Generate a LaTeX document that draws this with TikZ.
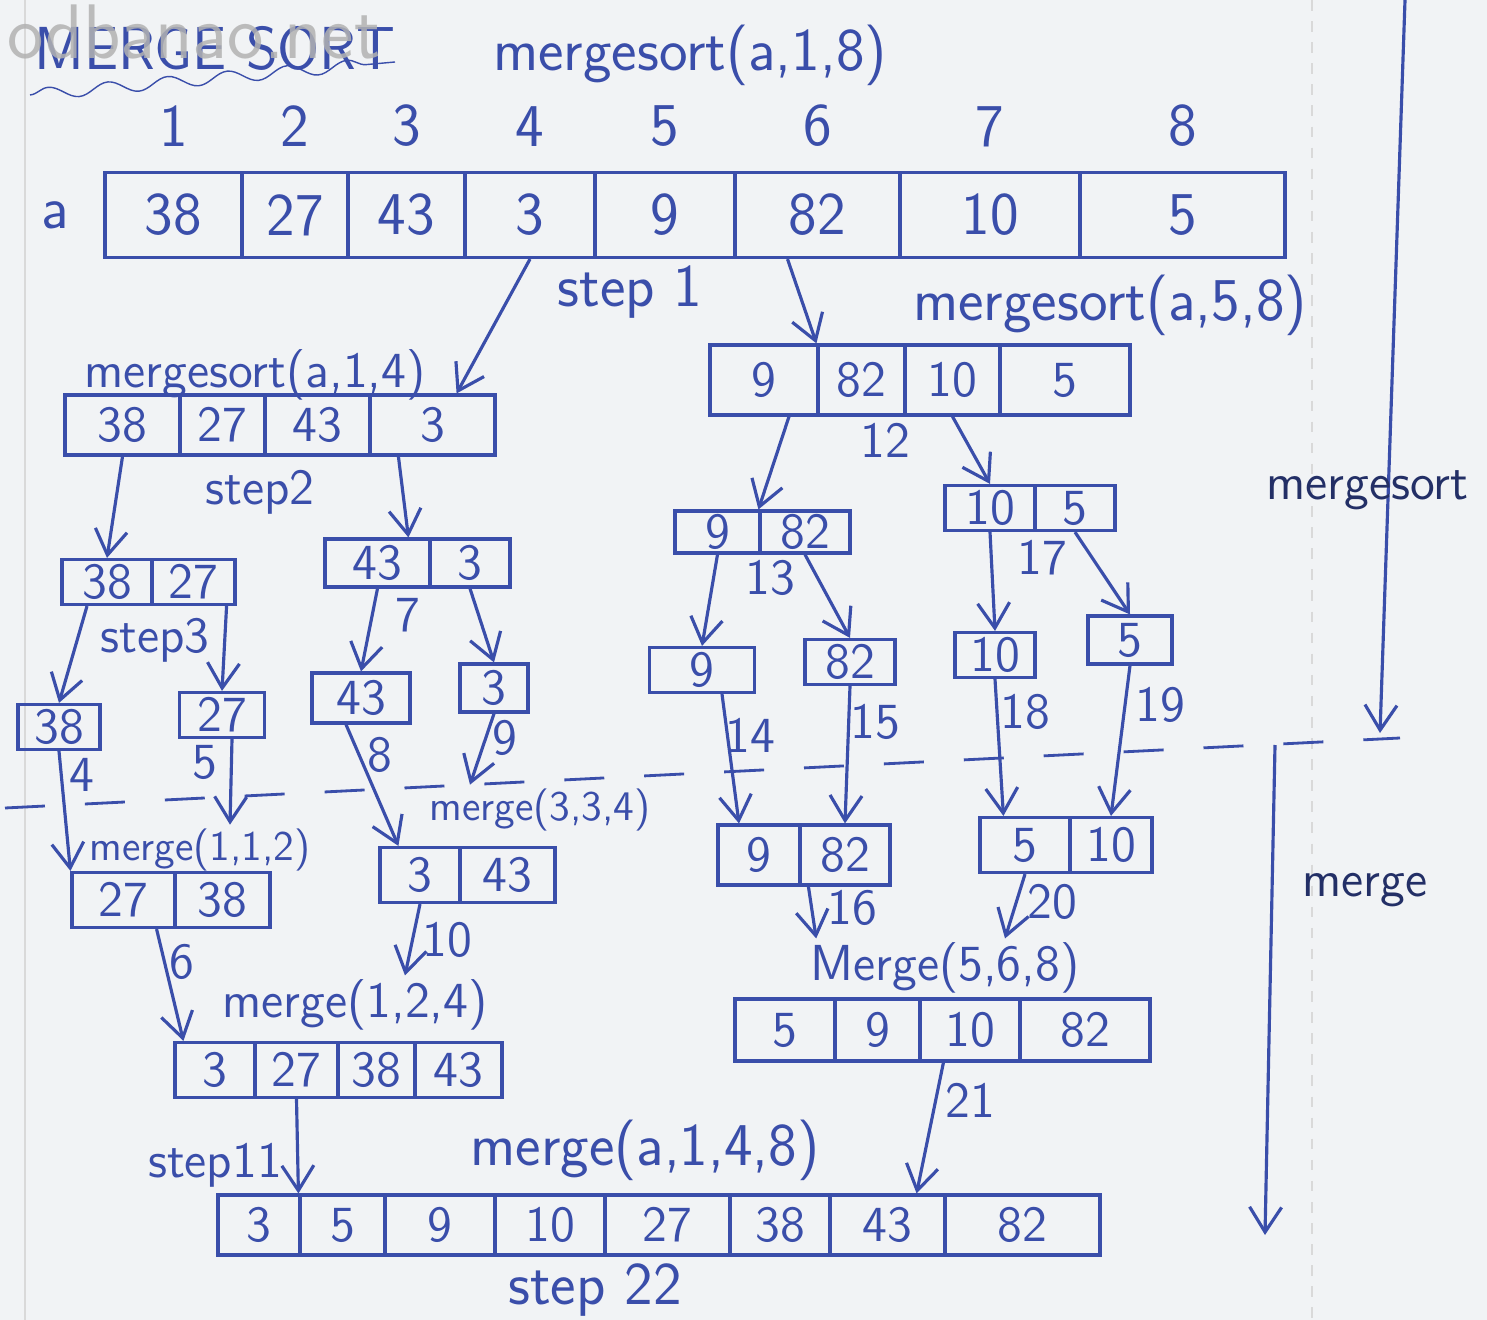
\documentclass[tikz,border=0pt]{standalone}
\usepackage{tikz}
\usetikzlibrary{positioning,arrows.meta,decorations.pathmorphing}

\definecolor{ink}{RGB}{58,78,170}
\definecolor{paper}{RGB}{241,243,245}

\tikzset{
	cell/.style = {draw=ink, rectangle, inner sep=0pt, text=ink, line width=0.9pt, font=\sffamily\Large},
	txt/.style = {text=ink, font=\sffamily\Large, inner sep=1pt},
	bigtxt/.style = {text=ink, font=\sffamily\LARGE, inner sep=1pt},
	arr/.style = {draw=ink, line width=0.9pt, -{Straight Barb[length=2.5mm,width=3.2mm]}},
}

\begin{document}
\begin{tikzpicture}[yscale=-1]
\useasboundingbox (0,0) rectangle (14.87,13.2);
\fill[paper] (0,0) rectangle (14.87,13.2);
\draw[gray!30, line width=0.8pt] (0.25,0) -- (0.25,13.2);
\draw[gray!30, dashed] (13.12,0) -- (13.12,13.2);

% title
\node[bigtxt, anchor=west] (title) at (0.3,0.48) {MERGE SORT};
\draw[ink, decorate, decoration={snake, amplitude=0.6mm, segment length=6mm}] (0.3,0.95) -- (3.95,0.62);
\node[anchor=west, text=gray!60, opacity=0.85, font=\sffamily\fontsize{22}{24}\selectfont] (mark) at (-0.05,0.32) {odbanao.net};

% the whole array
\node[bigtxt] (call18) at (6.9,0.55) {mergesort(a,1,8)};
\foreach \l/\r/\v [count=\i] in {1.05/2.42/38, 2.42/3.48/27, 3.48/4.65/43, 4.65/5.95/3, 5.95/7.35/9, 7.35/9.00/82, 9.00/10.80/10, 10.80/12.85/5}
	\node[cell, font=\sffamily\LARGE, minimum height=0.85cm, minimum width={(\r-\l)*1cm}] (top\i) at ({(\l+\r)/2}, 2.15) {\v};
\foreach \i in {1, ..., 8}
	\node[bigtxt, above=2mm of top\i] (ix\i) {\i};
\node[bigtxt, left=3mm of top1] (aname) {a};
\node[bigtxt] (st1) at (6.3,2.92) {step 1};

% mergesort(a,1,4)
\node[txt] (call14) at (2.55,3.75) {mergesort(a,1,4)};
\foreach \l/\r/\v [count=\i] in {0.65/1.80/38, 1.80/2.65/27, 2.65/3.70/43, 3.70/4.95/3}
	\node[cell, minimum height=0.6cm, minimum width={(\r-\l)*1cm}] (lft\i) at ({(\l+\r)/2}, 4.25) {\v};

% mergesort(a,5,8)
\node[bigtxt] (call58) at (11.1,3.05) {mergesort(a,5,8)};
\foreach \l/\r/\v [count=\i] in {7.10/8.18/9, 8.18/9.05/82, 9.05/10.00/10, 10.00/11.30/5}
	\node[cell, minimum height=0.7cm, minimum width={(\r-\l)*1cm}] (rgt\i) at ({(\l+\r)/2}, 3.8) {\v};

\draw[arr] (top4.south) -- ([xshift=-4mm]lft4.north east);
\draw[arr] ([xshift=-3mm]top6.south) -- (rgt2.north west);

% halves of the halves
\foreach \l/\r/\v [count=\i] in {0.62/1.52/38, 1.52/2.35/27}
	\node[cell, minimum height=0.45cm, minimum width={(\r-\l)*1cm}] (lla\i) at ({(\l+\r)/2}, 5.82) {\v};
\foreach \l/\r/\v [count=\i] in {3.25/4.30/43, 4.30/5.10/3}
	\node[cell, minimum height=0.48cm, minimum width={(\r-\l)*1cm}] (llb\i) at ({(\l+\r)/2}, 5.63) {\v};
\foreach \l/\r/\v [count=\i] in {6.75/7.60/9, 7.60/8.50/82}
	\node[cell, minimum height=0.42cm, minimum width={(\r-\l)*1cm}] (rra\i) at ({(\l+\r)/2}, 5.32) {\v};
\foreach \l/\r/\v [count=\i] in {9.45/10.35/10, 10.35/11.15/5}
	\node[cell, minimum height=0.45cm, minimum width={(\r-\l)*1cm}] (rrb\i) at ({(\l+\r)/2}, 5.08) {\v};

\draw[arr] (lft1.south) -- (lla1.north);
\draw[arr] ([xshift=3mm]lft4.south west) -- ([xshift=-2mm]llb2.north west);
\draw[arr] ([xshift=2.5mm]rgt1.south) -- (rra2.north west);
\draw[arr] (rgt3.south) -- (rrb1.north);

\node[txt] (st2) at (2.6,4.92) {step2};
\node[txt] (n12) at (8.85,4.40) {12};

% single elements
\node[cell, minimum height=0.45cm, minimum width=0.82cm] (one38) at (0.59,7.27) {38};
\node[cell, minimum height=0.45cm, minimum width=0.85cm] (one27) at (2.22,7.15) {27};
\node[cell, minimum height=0.5cm, minimum width=0.98cm] (one43) at (3.61,6.98) {43};
\node[cell, minimum height=0.48cm, minimum width=0.68cm] (one3) at (4.94,6.88) {3};
\node[cell, minimum height=0.45cm, minimum width=1.05cm] (one9) at (7.02,6.70) {9};
\node[cell, minimum height=0.45cm, minimum width=0.9cm] (one82) at (8.5,6.62) {82};
\node[cell, minimum height=0.45cm, minimum width=0.8cm] (one10) at (9.95,6.55) {10};
\node[cell, minimum height=0.48cm, minimum width=0.84cm] (one5) at (11.3,6.40) {5};

\draw[arr] ([xshift=-2mm]lla1.south) -- (one38.north);
\draw[arr] ([xshift=-1mm]lla2.south east) -- (one27.north);
\draw[arr] (llb1.south) -- (one43.north);
\draw[arr] (llb2.south) -- (one3.north);
\draw[arr] (rra1.south) -- (one9.north);
\draw[arr] (rra2.south) -- (one82.north);
\draw[arr] (rrb1.south) -- (one10.north);
\draw[arr] (rrb2.south) -- (one5.north);

\node[txt] (st3) at (1.55,6.40) {step3};
\node[txt] (n7) at (4.08,6.15) {7};
\node[txt] (n13) at (7.70,5.78) {13};
\node[txt] (n17) at (10.42,5.58) {17};

% mergesort above, merge below
\draw[ink, line width=0.8pt, dash pattern=on 4mm off 4mm] (0.05,8.08) -- (14.0,7.38);
\coordinate (msA) at (14.05,0);
\coordinate (msB) at (13.80,7.33);
\draw[arr] (msA) -- (msB);
\node[txt, text=ink!60!black, anchor=west] (msname) at (12.62,4.90) {mergesort};
\coordinate (mgA) at (12.75,7.45);
\coordinate (mgB) at (12.65,12.35);
\draw[arr] (mgA) -- (mgB);
\node[txt, text=ink!60!black] (mgname) at (13.65,8.90) {merge};

\node[txt] (n4) at (0.82,7.75) {4};
\node[txt] (n5) at (2.05,7.62) {5};
\node[txt] (n8) at (3.80,7.55) {8};
\node[txt] (n9) at (5.05,7.38) {9};
\node[txt] (n14) at (7.50,7.35) {14};
\node[txt] (n15) at (8.75,7.22) {15};
\node[txt] (n18) at (10.25,7.12) {18};
\node[txt] (n19) at (11.6,7.05) {19};

% merged pairs
\node[txt, font=\sffamily\large] (call112) at (2.0,8.50) {merge(1,1,2)};
\foreach \l/\r/\v [count=\i] in {0.72/1.75/27, 1.75/2.70/38}
	\node[cell, minimum height=0.55cm, minimum width={(\r-\l)*1cm}] (mA\i) at ({(\l+\r)/2}, 9.0) {\v};
\node[txt, font=\sffamily\large] (call334) at (5.40,8.10) {merge(3,3,4)};
\foreach \l/\r/\v [count=\i] in {3.80/4.60/3, 4.60/5.55/43}
	\node[cell, minimum height=0.55cm, minimum width={(\r-\l)*1cm}] (mB\i) at ({(\l+\r)/2}, 8.75) {\v};
\foreach \l/\r/\v [count=\i] in {7.18/8.00/9, 8.00/8.90/82}
	\node[cell, minimum height=0.6cm, minimum width={(\r-\l)*1cm}] (mD\i) at ({(\l+\r)/2}, 8.55) {\v};
\foreach \l/\r/\v [count=\i] in {9.80/10.70/5, 10.70/11.52/10}
	\node[cell, minimum height=0.55cm, minimum width={(\r-\l)*1cm}] (mE\i) at ({(\l+\r)/2}, 8.45) {\v};

\draw[arr] (one38.south) -- (mA1.north west);
\draw[arr] ([xshift=1mm]one27.south) -- ([xshift=3mm]call112.north);
\draw[arr] ([xshift=-1.5mm]one43.south) -- ([xshift=2mm]mB1.north west);
\draw[arr] (one3.south) -- ([xshift=-7mm]call334.north);
\draw[arr] ([xshift=2mm]one9.south) -- ([xshift=-2mm]mD1.north);
\draw[arr] (one82.south) -- (mD2.north);
\draw[arr] (one10.south) -- ([xshift=2.5mm]mE1.north west);
\draw[arr] (one5.south) -- (mE2.north);

% merged fours
\node[txt] (call124) at (3.55,10.05) {merge(1,2,4)};
\foreach \l/\r/\v [count=\i] in {1.75/2.55/3, 2.55/3.38/27, 3.38/4.15/38, 4.15/5.02/43}
	\node[cell, minimum height=0.55cm, minimum width={(\r-\l)*1cm}] (mC\i) at ({(\l+\r)/2}, 10.70) {\v};
\node[txt] (call568) at (9.45,9.68) {Merge(5,6,8)};
\foreach \l/\r/\v [count=\i] in {7.35/8.35/5, 8.35/9.20/9, 9.20/10.20/10, 10.20/11.50/82}
	\node[cell, minimum height=0.62cm, minimum width={(\r-\l)*1cm}] (mF\i) at ({(\l+\r)/2}, 10.30) {\v};

\draw[arr] ([xshift=1mm]mD2.south west) -- ([xshift=1mm]call568.north west);
\draw[arr] (mE1.south) -- ([xshift=6mm]call568.north);

\draw[arr] ([xshift=-2mm]mA1.south east) -- ([xshift=1mm]mC1.north west);
\draw[arr] (mB1.south) -- ([xshift=5mm]call124.north);

\node[txt] (n6) at (1.82,9.62) {6};
\node[txt] (n10) at (4.47,9.40) {10};
\node[txt] (n16) at (8.52,9.08) {16};
\node[txt] (n20) at (10.52,9.02) {20};

% the sorted array
\node[bigtxt] (call18m) at (6.45,11.50) {merge(a,1,4,8)};
\foreach \l/\r/\v [count=\i] in {2.18/3.00/3, 3.00/3.85/5, 3.85/4.95/9, 4.95/6.05/10, 6.05/7.30/27, 7.30/8.30/38, 8.30/9.45/43, 9.45/11.00/82}
	\node[cell, minimum height=0.6cm, minimum width={(\r-\l)*1cm}] (fin\i) at ({(\l+\r)/2}, 12.25) {\v};

\draw[arr] (mC2.south) -- (fin2.north west);
\draw[arr] ([xshift=2.5mm]mF3.south west) -- ([xshift=-3mm]fin7.north east);

\node[txt] (n21) at (9.70,11.0) {21};
\node[txt] (st11) at (2.15,11.65) {step11};
\node[bigtxt] (st22) at (5.95,12.90) {step 22};

\end{tikzpicture}
\end{document}
